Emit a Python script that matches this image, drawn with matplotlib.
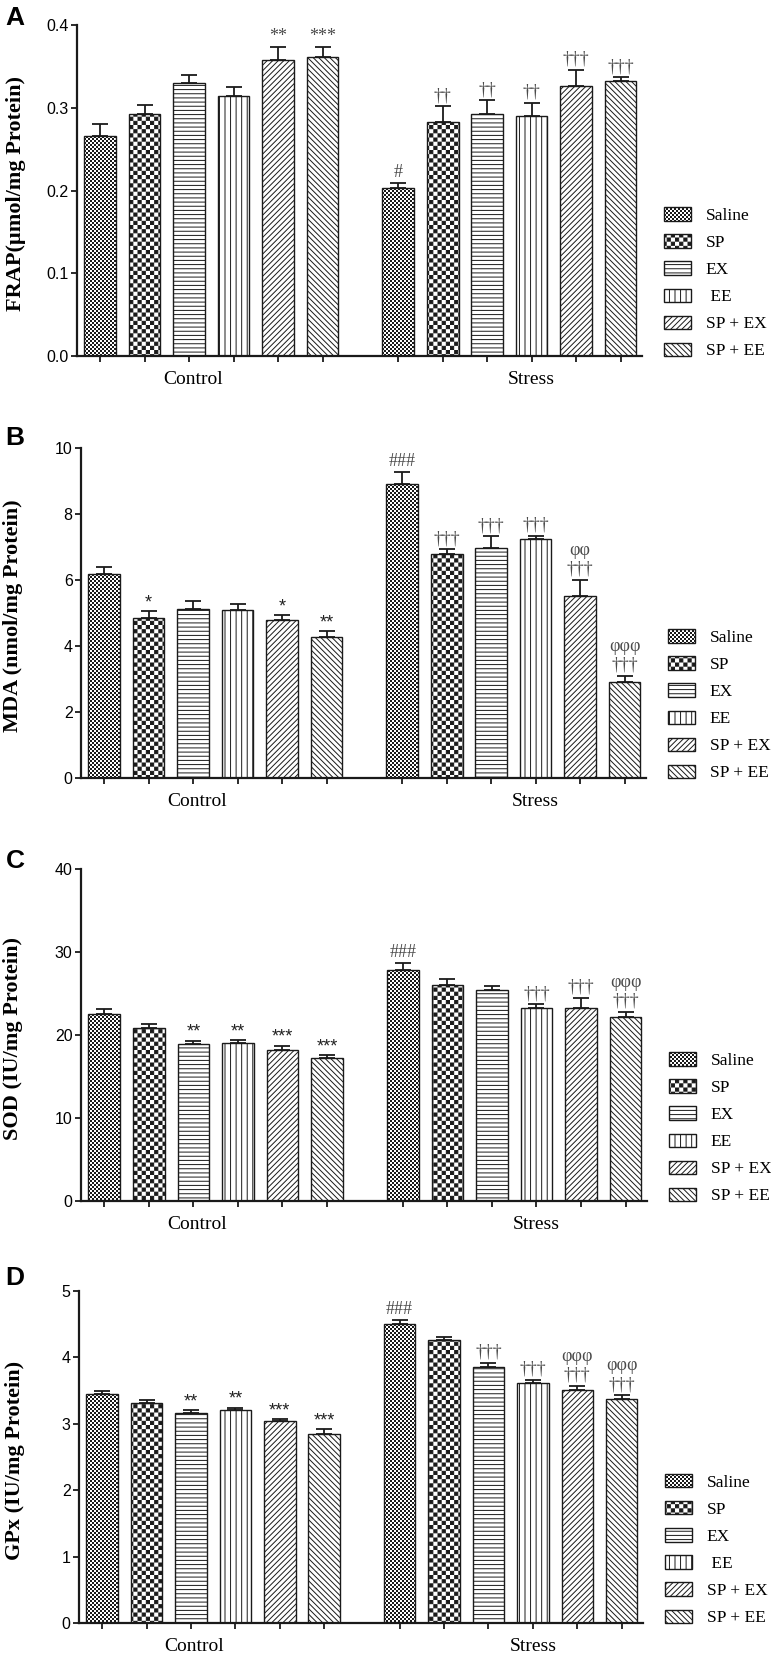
import numpy as np
import matplotlib
matplotlib.use('Agg')
from matplotlib import pyplot as plt
from matplotlib import hatch as mhatch
from matplotlib.path import Path
from matplotlib.transforms import blended_transform_factory

# ---- data ----
treatments = ['Saline', 'SP', 'EX', 'EE', 'SP + EX', 'SP + EE']
groups = ['Control', 'Stress']

frap_ctrl = [0.266, 0.292, 0.330, 0.314, 0.358, 0.362]
frap_ctrl_sem = [0.015, 0.012, 0.010, 0.011, 0.016, 0.012]
frap_stress = [0.203, 0.283, 0.293, 0.290, 0.327, 0.332]
frap_stress_sem = [0.006, 0.019, 0.016, 0.016, 0.019, 0.005]
frap_ctrl_sig = ['', '', '', '', '**', '***']
frap_stress_sig = ['#', '††', '††', '††', '†††', '†††']

mda_ctrl = [6.17, 4.83, 5.12, 5.09, 4.79, 4.27]
mda_ctrl_sem = [0.22, 0.22, 0.23, 0.19, 0.13, 0.17]
mda_stress = [8.90, 6.79, 6.97, 7.25, 5.52, 2.92]
mda_stress_sem = [0.36, 0.13, 0.35, 0.09, 0.48, 0.17]
mda_ctrl_sig = ['', '*', '', '', '*', '**']
mda_stress_sig = ['###', '†††', '†††', '†††', 'φφ\n†††', 'φφφ\n†††']

sod_ctrl = [22.6, 20.8, 18.9, 19.1, 18.2, 17.3]
sod_ctrl_sem = [0.5, 0.5, 0.4, 0.3, 0.5, 0.3]
sod_stress = [27.8, 26.0, 25.4, 23.3, 23.3, 22.2]
sod_stress_sem = [0.9, 0.8, 0.5, 0.4, 1.2, 0.6]
sod_ctrl_sig = ['', '', '**', '**', '***', '***']
sod_stress_sig = ['###', '', '', '†††', '†††', 'φφφ\n†††']

gpx_ctrl = [3.45, 3.32, 3.16, 3.20, 3.04, 2.85]
gpx_ctrl_sem = [0.05, 0.04, 0.04, 0.04, 0.03, 0.07]
gpx_stress = [4.50, 4.26, 3.85, 3.62, 3.51, 3.38]
gpx_stress_sem = [0.06, 0.05, 0.07, 0.04, 0.06, 0.05]
gpx_ctrl_sig = ['', '', '**', '**', '***', '***']
gpx_stress_sig = ['###', '', '†††', '†††', 'φφφ\n†††', 'φφφ\n†††']

# ---- checkerboard hatches ('o' fine, 'O' coarse) ----
HATCH_LW = 0.7


class CheckerHatch(mhatch.HatchPatternBase):
    symbol = 'o'
    cells = 50

    def __init__(self, hatch, density):
        self.num_vertices = 0
        if hatch and self.symbol in hatch:
            self.num_vertices = self.cells * self.cells // 2 * 5

    def set_vertices_and_codes(self, vertices, codes):
        n = self.cells
        ii, jj = np.meshgrid(np.arange(n), np.arange(n))
        keep = (ii + jj) % 2 == 0
        x0 = ii[keep] / n
        y0 = jj[keep] / n
        ins = 0.5 * HATCH_LW / 72.0
        s = 1.0 / n
        xs = np.stack([x0 + ins, x0 + s - ins, x0 + s - ins, x0 + ins, x0 + ins], axis=1)
        ys = np.stack([y0 + ins, y0 + ins, y0 + s - ins, y0 + s - ins, y0 + ins], axis=1)
        vertices[:, 0] = xs.ravel()
        vertices[:, 1] = ys.ravel()
        c = np.array([Path.MOVETO, Path.LINETO, Path.LINETO, Path.LINETO, Path.CLOSEPOLY])
        codes[:] = np.tile(c, len(x0))


class FineChecker(CheckerHatch):
    symbol, cells = 'o', 50


class CoarseChecker(CheckerHatch):
    symbol, cells = 'O', 24


mhatch._hatch_types = [t for t in mhatch._hatch_types
                       if t not in (mhatch.SmallCircles, mhatch.LargeCircles)]
mhatch._hatch_types += [FineChecker, CoarseChecker]

plt.rcParams['font.family'] = ['Liberation Serif', 'DejaVu Serif']
plt.rcParams['hatch.linewidth'] = HATCH_LW
plt.rcParams['hatch.color'] = '#1a1a1a'

hatches = ['o', 'O', '----', '|||', '//////', '\\\\\\\\\\\\']

panels = [
    ('A', [0.0999, 0.7846, 0.7328, 0.2002], 'FRAP(µmol/mg Protein)', np.arange(0, 0.41, 0.1), '%.1f',
     frap_ctrl, frap_ctrl_sem, frap_stress, frap_stress_sem, frap_ctrl_sig, frap_stress_sig,
     ['Saline', 'SP', 'EX', ' EE', 'SP + EX', 'SP + EE'], 'serif', 0.9849, -0.090),
    ('B', [0.1051, 0.5293, 0.7328, 0.1999], 'MDA (nmol/mg Protein)', np.arange(0, 11, 2), '%d',
     mda_ctrl, mda_ctrl_sem, mda_stress, mda_stress_sem, mda_ctrl_sig, mda_stress_sig,
     ['Saline', 'SP', 'EX', 'EE', 'SP + EX', 'SP + EE'], 'sans', 0.7308, -0.102),
    ('C', [0.1051, 0.2734, 0.7341, 0.2008], 'SOD (IU/mg Protein)', np.arange(0, 41, 10), '%d',
     sod_ctrl, sod_ctrl_sem, sod_stress, sod_stress_sem, sod_ctrl_sig, sod_stress_sig,
     ['Saline', 'SP', 'EX', 'EE', 'SP + EX', 'SP + EE'], 'sans', 0.4749, -0.102),
    ('D', [0.1025, 0.0182, 0.7315, 0.2008], 'GPx (IU/mg Protein)', np.arange(0, 6, 1), '%d',
     gpx_ctrl, gpx_ctrl_sem, gpx_stress, gpx_stress_sem, gpx_ctrl_sig, gpx_stress_sig,
     [' EE' if t == 'EE' else t for t in treatments], 'sans', 0.2226, -0.096),
]

ctrl_pos = np.arange(6)
stress_pos = np.arange(6) + 6.7
bar_w = 0.71
ink = '#1a1a1a'
mark_col = '#4a4a4a'

fig = plt.figure(figsize=(7.71, 16.53), dpi=100)

for (letter, rect, ylab, yt, fmt, cm, cs, sm, ss, csig, ssig, leg_labels, star_font, ly, lx) in panels:
    ax = fig.add_axes(rect)
    for i in range(6):
        ax.bar([ctrl_pos[i], stress_pos[i]], [cm[i], sm[i]], width=bar_w,
               facecolor='white', edgecolor=ink, linewidth=1.0,
               hatch=hatches[i], label=leg_labels[i], zorder=2)
    xs = np.concatenate([ctrl_pos, stress_pos])
    means = np.array(cm + sm)
    sems = np.array(cs + ss)
    ax.errorbar(xs, means, yerr=[np.zeros_like(sems), sems], fmt='none',
                ecolor=ink, elinewidth=1.3, capsize=6, capthick=1.3, zorder=3)
    for x, m, e, lab in zip(xs, means, sems, csig + ssig):
        if not lab:
            continue
        if lab.startswith('*') and star_font == 'sans':
            ax.annotate(lab, (x, m + e), xytext=(0, 0), textcoords='offset points',
                        ha='center', va='bottom', fontsize=13, color='#222222',
                        family=['Liberation Sans', 'DejaVu Sans'])
        else:
            ax.annotate(lab, (x, m + e), xytext=(0, 1.5), textcoords='offset points',
                        ha='center', va='bottom', fontsize=13, color=mark_col,
                        linespacing=1.15)

    ax.set_xlim(-0.52, 12.18)
    ax.set_ylim(yt[0], yt[-1])
    ax.set_yticks(yt)
    ax.set_yticklabels([fmt % v for v in yt], family=['Liberation Sans', 'DejaVu Sans'],
                       fontsize=11.5)
    ax.set_xticks(xs)
    ax.set_xticklabels([])
    for s in ('top', 'right'):
        ax.spines[s].set_visible(False)
    for s in ('left', 'bottom'):
        ax.spines[s].set_linewidth(1.6)
        ax.spines[s].set_color(ink)
    ax.tick_params(axis='both', direction='out', length=4.5, width=1.3, color=ink)
    ax.tick_params(axis='y', pad=1.5)
    ax.set_ylabel(ylab, fontsize=16, fontweight='bold')
    ax.yaxis.set_label_coords(lx, 0.49)

    trans = blended_transform_factory(ax.transData, ax.transAxes)
    ax.text(ctrl_pos.mean() - 0.42, -0.045, groups[0], transform=trans,
            ha='center', va='top', fontsize=14)
    ax.text(stress_pos.mean() + 0.5, -0.045, groups[1], transform=trans,
            ha='center', va='top', fontsize=14)

    ax.legend(loc='lower left', bbox_to_anchor=(1.039, -0.01), frameon=False,
              fontsize=12.5, borderpad=0, borderaxespad=0, handlelength=1.55,
              handleheight=0.8, handletextpad=0.85, labelspacing=0.6)

    fig.text(0.007, ly, letter, fontsize=19, fontweight='bold',
             family=['Liberation Sans', 'DejaVu Sans'], va='baseline', ha='left')

fig.savefig('out.png', dpi=100)
